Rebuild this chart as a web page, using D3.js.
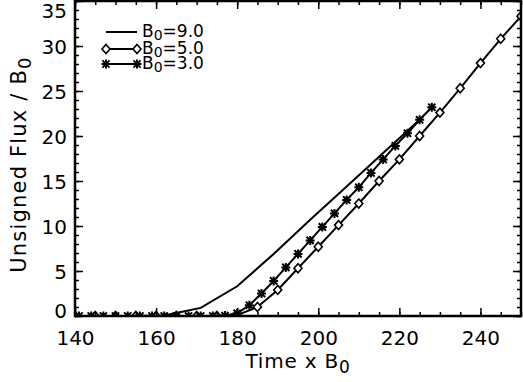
<!DOCTYPE html>
<html>
<head>
<meta charset="utf-8">
<script src="https://cdn.jsdelivr.net/npm/d3@7"></script>
<style>
  body { margin: 0; background: #fff; }
  text { font-family: "DejaVu Sans", sans-serif; fill: #000; }
</style>
</head>
<body>
<div class="canvas"></div>
<script>
// data (time x B0, unsigned flux / B0)
var timeB9 = [144, 153, 162, 171, 180, 189, 198, 207, 216, 225];
var fluxB9 = [0, 0, 0.05, 0.9, 3.3, 6.9, 10.7, 14.4, 18.1, 21.8];

var timeB5 = [140, 145, 150, 155, 160, 165, 170, 175, 180, 185, 190, 195, 200, 205, 210, 215, 220, 225, 230, 235, 240, 245, 250];
var fluxB5 = [0, 0, 0, 0, 0, 0, 0, 0, 0.1, 1.0, 2.9, 5.3, 7.7, 10.1, 12.5, 15.0, 17.4, 20.0, 22.6, 25.3, 28.1, 30.8, 33.3];

var timeB3 = [141, 144, 147, 150, 153, 156, 159, 162, 165, 168, 171, 174, 177, 180, 183, 186, 189, 192, 195, 198, 201, 204, 207, 210, 213, 216, 219, 222, 225, 228];
var fluxB3 = [0, 0, 0, 0, 0, 0, 0, 0, 0, 0, 0, 0, 0.05, 0.3, 1.2, 2.5, 3.9, 5.4, 6.9, 8.4, 9.9, 11.4, 12.9, 14.3, 15.9, 17.4, 18.9, 20.3, 21.8, 23.2];

var xMajor = [140, 160, 180, 200, 220, 240];
var xMinor = [140, 145, 150, 155, 160, 165, 170, 175, 180, 185, 190, 195, 200, 205, 210, 215, 220, 225, 230, 235, 240, 245, 250];
var yMajor = [0, 5, 10, 15, 20, 25, 30, 35];
var yMinor = [0, 1, 2, 3, 4, 5, 6, 7, 8, 9, 10, 11, 12, 13, 14, 15, 16, 17, 18, 19, 20, 21, 22, 23, 24, 25, 26, 27, 28, 29, 30, 31, 32, 33, 34, 35];

var legendLabels = ["9.0", "5.0", "3.0"];

var width = 523, height = 382;
var pLeft = 75, pRight = 521, pTop = 1, pBottom = 316;

var svg = d3.select(".canvas").append("svg")
    .attr("width", width)
    .attr("height", height);

var x = d3.scaleLinear().domain([140, 250]).range([pLeft, pRight]);
var y = d3.scaleLinear().domain([0, 35]).range([pBottom, pTop]);

svg.append("clipPath").attr("id", "plotclip")
  .append("rect")
    .attr("x", pLeft).attr("y", pTop)
    .attr("width", pRight - pLeft).attr("height", pBottom - pTop);

var plot = svg.append("g").attr("clip-path", "url(#plotclip)");

var line = d3.line()
    .x(function(d) { return x(d[0]); })
    .y(function(d) { return y(d[1]); });

var s9 = d3.zip(timeB9, fluxB9);
var s5 = d3.zip(timeB5, fluxB5);
var s3 = d3.zip(timeB3, fluxB3);

[s9, s5, s3].forEach(function(s) {
  plot.append("path")
    .datum(s)
    .attr("d", line)
    .attr("fill", "none")
    .attr("stroke", "#000")
    .attr("stroke-width", 2);
});

// diamond symbol
var diamond = function(g, cx, cy) {
  g.append("path")
    .attr("d", "M" + cx + "," + (cy - 4.5) + "L" + (cx + 4) + "," + cy + "L" + cx + "," + (cy + 4.5) + "L" + (cx - 4) + "," + cy + "Z")
    .attr("fill", "#fff")
    .attr("stroke", "#000")
    .attr("stroke-width", 1.6);
};

// asterisk symbol
var star = function(g, cx, cy) {
  var r = 4.5, p = "";
  p += "M" + (cx - r) + "," + cy + "L" + (cx + r) + "," + cy;
  p += "M" + cx + "," + (cy - r) + "L" + cx + "," + (cy + r);
  p += "M" + (cx - r * 0.8) + "," + (cy - r * 0.8) + "L" + (cx + r * 0.8) + "," + (cy + r * 0.8);
  p += "M" + (cx - r * 0.8) + "," + (cy + r * 0.8) + "L" + (cx + r * 0.8) + "," + (cy - r * 0.8);
  g.append("path").attr("d", p).attr("stroke", "#000").attr("stroke-width", 2).attr("fill", "none");
};

s5.forEach(function(d) { diamond(plot, x(d[0]), y(d[1])); });
s3.forEach(function(d) { star(plot, x(d[0]), y(d[1])); });

// axes: ticks point inward, on all four sides
var axes = svg.append("g");

axes.append("g").attr("transform", "translate(0," + pBottom + ")")
  .call(d3.axisBottom(x).tickValues(xMinor).tickSize(-4).tickFormat(""));
axes.append("g").attr("transform", "translate(0," + pBottom + ")")
  .call(d3.axisBottom(x).tickValues(xMajor).tickSize(-8).tickPadding(15).tickFormat(d3.format("d")));
axes.append("g").attr("transform", "translate(0," + pTop + ")")
  .call(d3.axisTop(x).tickValues(xMinor).tickSize(-4).tickFormat(""));
axes.append("g").attr("transform", "translate(0," + pTop + ")")
  .call(d3.axisTop(x).tickValues(xMajor).tickSize(-8).tickFormat(""));

axes.append("g").attr("transform", "translate(" + pLeft + ",0)")
  .call(d3.axisLeft(y).tickValues(yMinor).tickSize(-4).tickFormat(""));
var yAx = axes.append("g").attr("transform", "translate(" + pLeft + ",0)")
  .call(d3.axisLeft(y).tickValues(yMajor).tickSize(-8).tickPadding(8).tickFormat(d3.format("d")));
axes.append("g").attr("transform", "translate(" + pRight + ",0)")
  .call(d3.axisRight(y).tickValues(yMinor).tickSize(-4).tickFormat(""));
axes.append("g").attr("transform", "translate(" + pRight + ",0)")
  .call(d3.axisRight(y).tickValues(yMajor).tickSize(-8).tickFormat(""));

axes.selectAll(".domain").remove();
axes.selectAll(".tick line").attr("stroke", "#000").attr("stroke-width", 1.5);
axes.selectAll(".tick text").style("font-size", "20px").style("font-family", "DejaVu Sans");

// end labels shifted into the frame like the original
yAx.selectAll(".tick text").attr("dy", function(d) {
  if (d === 35) return "0.8em";
  if (d === 0) return "0.05em";
  return "0.38em";
});

svg.append("rect")
    .attr("x", pLeft).attr("y", pTop)
    .attr("width", pRight - pLeft).attr("height", pBottom - pTop)
    .attr("fill", "none")
    .attr("stroke", "#000")
    .attr("stroke-width", 2.5);

// axis titles
var xt = svg.append("text")
    .attr("x", (pLeft + pRight) / 2)
    .attr("y", 368)
    .attr("text-anchor", "middle")
    .style("font-size", "20px")
    .style("letter-spacing", "0.8px");
xt.append("tspan").text("Time x B");
xt.append("tspan").attr("dy", 5).style("font-size", "17px").text("0");

var yt = svg.append("text")
    .attr("transform", "translate(26," + ((pTop + pBottom) / 2 + 6) + ") rotate(-90)")
    .attr("text-anchor", "middle")
    .style("font-size", "21px")
    .style("letter-spacing", "1.2px");
yt.append("tspan").text("Unsigned Flux / B");
yt.append("tspan").attr("dy", 5).style("font-size", "18px").text("0");

// legend
var leg = svg.append("g");
var legY = [32, 49, 64];
legendLabels.forEach(function(lab, i) {
  var ly = legY[i];
  leg.append("line")
    .attr("x1", 106).attr("x2", 137)
    .attr("y1", ly).attr("y2", ly)
    .attr("stroke", "#000").attr("stroke-width", 2);
  if (i === 1) { diamond(leg, 106, ly); diamond(leg, 137, ly); }
  if (i === 2) { star(leg, 106, ly); star(leg, 137, ly); }
  var t = leg.append("text")
    .attr("x", 142).attr("y", ly + 5)
    .style("font-size", "17px");
  t.append("tspan").text("B");
  t.append("tspan").attr("dy", 3).style("font-size", "14px").text("0");
  t.append("tspan").attr("dy", -3).text("=" + lab);
});
</script>
</body>
</html>
